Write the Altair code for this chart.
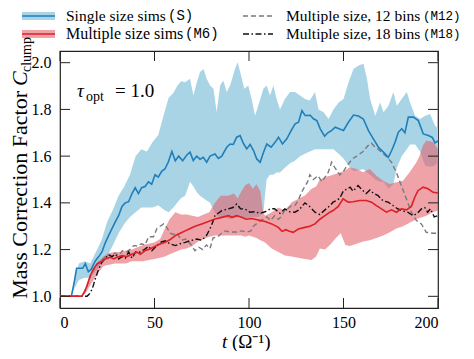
import altair as alt
import pandas as pd

# ---------------- data ----------------
S_t = [0, 6, 7.5, 8.8, 10.5, 12, 13.4, 15, 16.5, 18.6, 20.5, 22.2, 24, 25.7, 27.5, 29.3, 31, 32.8, 34.5, 36.3,
       38.1, 39.8, 41.5, 43.2, 45, 46.8, 48.5, 50.3, 52, 53.8, 55.5, 57.3, 59.2, 61, 62.8, 64.9, 67.1, 68.8, 70.5,
       72.3, 74.1, 75.8, 77.6, 79.4, 82, 83.8, 85.6, 88.2, 90, 91.7, 93.5, 95.3, 97, 98.8, 100.6, 102.4, 104.1,
       105.9, 107.7, 109.4, 111.7, 113.8, 115.6, 117.7, 120, 122.3, 124.4, 126.2, 128, 129.7, 132.4, 134.1, 135.9,
       137.7, 140, 141.7, 143.8, 145.6, 148.3, 150, 152.6, 155.3, 157.9, 160.5, 163.2, 165.8, 168.5, 171.1, 173.7,
       175.5, 177.3, 179, 180.8, 182.5, 184.3, 187, 189.6, 192.2, 194.9, 197, 198.4, 200]
S_v = [1.0, 1.0, 1.06, 1.12, 1.12, 1.12, 1.14, 1.105, 1.115, 1.15, 1.17, 1.19, 1.23, 1.26, 1.29, 1.32, 1.345, 1.385,
       1.40, 1.405, 1.44, 1.465, 1.44, 1.465, 1.47, 1.49, 1.48, 1.52, 1.51, 1.535, 1.545, 1.575, 1.62, 1.58, 1.60,
       1.58, 1.605, 1.617, 1.581, 1.60, 1.587, 1.595, 1.574, 1.60, 1.609, 1.59, 1.60, 1.638, 1.652, 1.65, 1.681,
       1.688, 1.655, 1.631, 1.65, 1.624, 1.588, 1.574, 1.617, 1.652, 1.638, 1.659, 1.681, 1.652, 1.674, 1.709,
       1.738, 1.745, 1.795, 1.774, 1.775, 1.76, 1.752, 1.717, 1.685, 1.70, 1.71, 1.724, 1.715, 1.71, 1.745, 1.776,
       1.772, 1.759, 1.709, 1.674, 1.638, 1.617, 1.595, 1.624, 1.66, 1.702, 1.717, 1.70, 1.767, 1.767, 1.752,
       1.695, 1.688, 1.68, 1.657, 1.665]

S_band_t = [0, 6, 8, 10, 13, 16, 19, 22, 25, 28, 31, 34, 37, 40, 43, 46, 49, 52, 55, 57.5, 60, 62, 64, 66.2, 68.8,
            70.6, 72.4, 74.1, 75.9, 77.6, 79.4, 81.2, 82.9, 84.7, 86.4, 88.2, 90, 92.6, 94, 95.8, 97.5, 99.6, 101.4,
            103.2, 104.9, 107.6, 109.3, 111.1, 112.9, 114.6, 116.4, 119, 121.7, 124.3, 127, 129.6, 132.2, 134.9,
            136.8, 139.5, 142.1, 144.7, 147.4, 150, 152.7, 155.3, 158, 160.6, 162.4, 164.1, 166.8, 169.4, 171.2,
            173.8, 176.4, 178.2, 180.8, 183.5, 185.2, 187.9, 190.5, 193.2, 195.8, 198.4, 200]
S_lo = [1.0, 1.0, 1.04, 1.07, 1.08, 1.08, 1.11, 1.14, 1.17, 1.22, 1.27, 1.31, 1.34, 1.36, 1.38, 1.38, 1.38, 1.39,
        1.37, 1.36, 1.38, 1.40, 1.42, 1.43, 1.49, 1.47, 1.445, 1.43, 1.42, 1.41, 1.40, 1.37, 1.345, 1.34, 1.34,
        1.335, 1.33, 1.335, 1.34, 1.34, 1.335, 1.335, 1.34, 1.34, 1.34, 1.36, 1.50, 1.52, 1.52, 1.53, 1.53, 1.55,
        1.57, 1.58, 1.60, 1.61, 1.62, 1.63, 1.63, 1.63, 1.63, 1.63, 1.61, 1.59, 1.56, 1.535, 1.54, 1.545, 1.53,
        1.52, 1.50, 1.49, 1.49, 1.46, 1.48, 1.55, 1.60, 1.63, 1.65, 1.65, 1.62, 1.56, 1.555, 1.56, 1.58]
S_hi = [1.0, 1.0, 1.09, 1.14, 1.15, 1.14, 1.19, 1.24, 1.32, 1.37, 1.43, 1.47, 1.52, 1.60, 1.63, 1.62, 1.66, 1.69,
        1.78, 1.85, 1.87, 1.90, 1.92, 1.916, 1.931, 1.86, 1.916, 1.96, 1.973, 1.931, 1.902, 1.888, 1.788, 1.902,
        1.924, 1.874, 1.902, 1.973, 2.002, 1.945, 1.888, 1.902, 1.845, 1.773, 1.816, 1.888, 1.902, 1.86, 1.902,
        1.845, 1.80, 1.845, 1.874, 1.874, 1.86, 1.845, 1.838, 1.874, 1.80, 1.788, 1.759, 1.80, 1.83, 1.845,
        1.916, 1.973, 1.988, 1.995, 1.931, 1.845, 1.773, 1.83, 1.788, 1.816, 1.874, 1.816, 1.845, 1.874, 1.83,
        1.773, 1.759, 1.773, 1.78, 1.731, 1.717]

M6_t = [0, 11.5, 13, 14.3, 16, 17.8, 19.6, 21.3, 24, 26.6, 28.5, 30.1, 32.8, 35.4, 38.1, 40.7, 42.5, 45.1, 47.7,
        50.4, 53, 55.7, 58.3, 61, 63.6, 66.2, 68.9, 71.5, 75, 78.5, 82, 85.6, 89.1, 91, 93.5, 96.1, 98.5, 101.4,
        104.9, 108.5, 112, 115.5, 117.5, 119.5, 121, 123.4, 126.1, 129.6, 132.2, 134.9, 137.5, 140.2, 142.8, 144.5,
        147.2, 149.8, 152.5, 155.1, 158.6, 162.1, 164.8, 167.4, 170.1, 172.7, 175.4, 178, 180.6, 183.3, 185.9,
        187.7, 189.4, 192.1, 194.7, 197.4, 200]
M6_v = [1.0, 1.0, 1.02, 1.045, 1.088, 1.117, 1.139, 1.146, 1.16, 1.167, 1.16, 1.167, 1.174, 1.17, 1.18, 1.189,
        1.18, 1.196, 1.203, 1.214, 1.224, 1.231, 1.243, 1.26, 1.27, 1.28, 1.29, 1.30, 1.31, 1.32, 1.331, 1.338,
        1.345, 1.338, 1.345, 1.338, 1.33, 1.333, 1.327, 1.32, 1.31, 1.295, 1.278, 1.285, 1.28, 1.274, 1.288,
        1.295, 1.30, 1.31, 1.33, 1.345, 1.36, 1.367, 1.385, 1.417, 1.403, 1.405, 1.41, 1.41, 1.403, 1.388, 1.374,
        1.36, 1.37, 1.36, 1.374, 1.37, 1.385, 1.424, 1.452, 1.467, 1.46, 1.445, 1.442]

M6_band_t = [0, 12, 14, 17, 20, 23, 26, 29, 32, 35, 38, 41, 44, 47, 50, 53, 55.5, 58, 61, 64, 67, 70, 73, 76, 79,
             82, 85, 89, 92, 94, 96, 98, 100, 102, 104, 106, 107.5, 108.5, 112, 115.5, 119, 122.6, 126, 129.6,
             133.1, 135.5, 137.5, 140.2, 142.8, 146, 148.5, 151, 153.3, 156.9, 160.4, 163.9, 167.4, 171, 174.5,
             178, 181.5, 185, 188.6, 190.3, 192, 193.8, 197.4, 200]
M6_lo = [1.0, 1.0, 1.02, 1.06, 1.10, 1.13, 1.135, 1.14, 1.14, 1.14, 1.15, 1.15, 1.15, 1.155, 1.16, 1.165, 1.17,
         1.18, 1.19, 1.20, 1.205, 1.215, 1.235, 1.245, 1.255, 1.26, 1.26, 1.26, 1.26, 1.26, 1.26, 1.255, 1.26,
         1.255, 1.25, 1.24, 1.235, 1.23, 1.205, 1.19, 1.175, 1.17, 1.165, 1.16, 1.155, 1.17, 1.205, 1.20, 1.22,
         1.25, 1.27, 1.22, 1.215, 1.225, 1.235, 1.24, 1.25, 1.26, 1.274, 1.29, 1.30, 1.315, 1.33, 1.335, 1.34,
         1.345, 1.36, 1.367]
M6_hi = [1.0, 1.0, 1.05, 1.10, 1.15, 1.17, 1.185, 1.19, 1.19, 1.195, 1.20, 1.21, 1.22, 1.225, 1.23, 1.245, 1.29,
         1.33, 1.36, 1.35, 1.35, 1.345, 1.34, 1.35, 1.36, 1.40, 1.43, 1.43, 1.44, 1.42, 1.45, 1.475, 1.485, 1.46,
         1.48, 1.45, 1.36, 1.345, 1.36, 1.38, 1.367, 1.403, 1.417, 1.431, 1.46, 1.47, 1.50, 1.51, 1.516, 1.525,
         1.531, 1.54, 1.552, 1.545, 1.531, 1.545, 1.516, 1.495, 1.481, 1.488, 1.495, 1.531, 1.574, 1.602, 1.645,
         1.667, 1.66, 1.631]

M12_t = [0, 11.5, 13, 14.3, 16, 17.8, 19.6, 21.3, 23, 25, 27, 29, 31, 33, 35, 37, 39, 41, 43, 45, 46.9, 49.5, 51.3,
         53, 54.8, 56.5, 58.3, 60, 62, 64.3, 66.5, 69, 71.4, 73.5, 75.5, 77.5, 79.4, 81, 83.5, 85.5, 87.3, 90, 93.5,
         96, 98.8, 101, 102.3, 105.5, 107.5, 109.4, 111.5, 113.5, 115.5, 117, 119, 120.5, 122.6, 124.5, 126, 127.8,
         129.5, 131, 132.2, 134, 136.6, 138.5, 140.2, 141.9, 143.7, 145.5, 148, 150, 151.5, 153.3, 155, 157, 160.4,
         163, 164.8, 166.5, 168.3, 170, 172.5, 175.4, 178, 180.6, 183.3, 185.9, 188.6, 191.2, 193.8, 197.4, 200]
M12_v = [1.0, 1.0, 1.02, 1.045, 1.085, 1.115, 1.135, 1.15, 1.16, 1.18, 1.17, 1.185, 1.175, 1.195, 1.19, 1.20,
         1.217, 1.215, 1.225, 1.22, 1.255, 1.255, 1.29, 1.30, 1.31, 1.295, 1.27, 1.265, 1.27, 1.24, 1.245, 1.225,
         1.195, 1.21, 1.20, 1.22, 1.205, 1.25, 1.255, 1.27, 1.28, 1.275, 1.275, 1.28, 1.275, 1.28, 1.30, 1.32,
         1.33, 1.34, 1.325, 1.345, 1.33, 1.34, 1.37, 1.375, 1.388, 1.39, 1.41, 1.445, 1.47, 1.49, 1.52, 1.50,
         1.516, 1.49, 1.51, 1.53, 1.574, 1.55, 1.52, 1.535, 1.555, 1.574, 1.59, 1.60, 1.62, 1.645, 1.655, 1.64,
         1.63, 1.617, 1.60, 1.574, 1.53, 1.474, 1.417, 1.36, 1.324, 1.31, 1.274, 1.27, 1.27]

M18_t = [0, 14.3, 15.5, 17, 18.7, 20.5, 22.2, 24, 25.7, 27.5, 29.3, 31, 32.8, 34.5, 36.3, 38.1, 40, 42.5, 45.1,
         46.9, 48.6, 50.4, 53, 55.7, 58.3, 61, 63.5, 66.2, 68.9, 72.4, 75, 77.5, 80, 82, 85.6, 89.1, 91.5, 93.5,
         95.5, 97.9, 100.5, 103, 105.8, 108.5, 111.1, 113.5, 116.4, 119, 121.5, 124.3, 126.5, 129.6, 132, 134.9,
         137.5, 140.2, 142.8, 144.5, 146.3, 148, 150, 152, 153.5, 155, 157.7, 160, 162, 164, 166, 168.3, 171,
         173.6, 176, 178.5, 181.5, 184, 186.8, 189, 191.2, 193, 194.5, 196, 198, 200]
M18_v = [1.0, 1.0, 1.01, 1.03, 1.075, 1.117, 1.146, 1.163, 1.178, 1.17, 1.18, 1.16, 1.17, 1.163, 1.19, 1.163,
         1.19, 1.19, 1.203, 1.214, 1.195, 1.21, 1.231, 1.238, 1.224, 1.217, 1.225, 1.231, 1.238, 1.245, 1.24,
         1.26, 1.30, 1.345, 1.367, 1.374, 1.38, 1.395, 1.375, 1.374, 1.36, 1.362, 1.355, 1.362, 1.374, 1.375,
         1.355, 1.374, 1.362, 1.36, 1.37, 1.40, 1.385, 1.36, 1.35, 1.37, 1.388, 1.403, 1.41, 1.42, 1.452, 1.46,
         1.467, 1.45, 1.474, 1.455, 1.44, 1.455, 1.44, 1.431, 1.408, 1.403, 1.39, 1.375, 1.365, 1.36, 1.345,
         1.355, 1.374, 1.38, 1.36, 1.375, 1.34, 1.345]

x_ticks = [0, 50, 100, 150, 200]
y_ticks = [1.0, 1.2, 1.4, 1.6, 1.8, 2.0]

# ---------------- layout ----------------
W, H = 378, 257
SERIF = "Liberation Serif"
MONO = "Liberation Mono"
BLUE, BLUE_BAND = "#1f7fba", "#a9d4e6"
RED, RED_BAND = "#dd1f26", "#e35f68"
RED_OP = 0.58

xs = alt.Scale(domain=[0, 200], nice=False, zero=False)
ys = alt.Scale(domain=[0.95, 2.05], nice=False, zero=False)
X = alt.X("t:Q", scale=xs, title="",
          axis=alt.Axis(values=x_ticks, labelPadding=6, labelFontSize=16, labelFont=SERIF))
Y = alt.Y("v:Q", scale=ys, title="",
          axis=alt.Axis(values=y_ticks, format=".1f", labelPadding=9, labelFontSize=16, labelFont=SERIF))

df_s = pd.DataFrame({"t": S_t, "v": S_v})
df_sb = pd.DataFrame({"t": S_band_t, "v": S_lo, "v2": S_hi})
df_m6 = pd.DataFrame({"t": M6_t, "v": M6_v})
df_m6b = pd.DataFrame({"t": M6_band_t, "v": M6_lo, "v2": M6_hi})
df_m12 = pd.DataFrame({"t": M12_t, "v": M12_v})
df_m18 = pd.DataFrame({"t": M18_t, "v": M18_v})

band_s = alt.Chart(df_sb).mark_area(color=BLUE_BAND, opacity=1).encode(x=X, y=Y, y2="v2:Q")
band_m6 = alt.Chart(df_m6b).mark_area(color=RED_BAND, opacity=RED_OP).encode(x=X, y=Y, y2="v2:Q")
line_m12 = alt.Chart(df_m12).mark_line(color="#7a7a7a", strokeWidth=1.4, strokeDash=[5, 3]).encode(x=X, y=Y)
line_m18 = alt.Chart(df_m18).mark_line(color="#111111", strokeWidth=1.4,
                                        strokeDash=[6, 2.5, 1.5, 2.5]).encode(x=X, y=Y)
line_s = alt.Chart(df_s).mark_line(color=BLUE, strokeWidth=1.6).encode(x=X, y=Y)
line_m6 = alt.Chart(df_m6).mark_line(color=RED, strokeWidth=1.6).encode(x=X, y=Y)

# inward ticks on all four sides
df_xt = pd.DataFrame({"t": x_ticks})
df_yt = pd.DataFrame({"v": y_ticks})
TK = "#222222"
xt_bot = alt.Chart(df_xt).mark_rule(color=TK, strokeWidth=1).encode(x=X, y=alt.value(H), y2=alt.value(H - 10))
xt_top = alt.Chart(df_xt).mark_rule(color=TK, strokeWidth=1).encode(x=X, y=alt.value(0), y2=alt.value(10))
yt_l = alt.Chart(df_yt).mark_rule(color=TK, strokeWidth=1).encode(y=Y, x=alt.value(0), x2=alt.value(10))
yt_r = alt.Chart(df_yt).mark_rule(color=TK, strokeWidth=1).encode(y=Y, x=alt.value(W - 10), x2=alt.value(W))

dummy = pd.DataFrame({"d": [0]})


def txt(s, x, y, size, font=SERIF, style="normal", align="left", baseline="alphabetic", angle=0):
    return alt.Chart(dummy).mark_text(text=s, font=font, fontSize=size, fontStyle=style, align=align,
                                      baseline=baseline, angle=angle, color="black").encode(
        x=alt.value(x), y=alt.value(y))


def rect(x1, x2, y1, y2, color, opacity=1.0):
    return alt.Chart(dummy).mark_rect(color=color, opacity=opacity).encode(
        x=alt.value(x1), x2=alt.value(x2), y=alt.value(y1), y2=alt.value(y2))


def seg(x1, x2, y, color, width, dash=None):
    kw = dict(color=color, strokeWidth=width)
    if dash:
        kw["strokeDash"] = dash
    return alt.Chart(dummy).mark_rule(**kw).encode(x=alt.value(x1), x2=alt.value(x2), y=alt.value(y))


# legend (chart coordinates: page minus (60, 51))
r1, r2 = -35, -17
legend = [
    rect(-38, -5, r1 - 4, r1 + 4, BLUE_BAND), seg(-38, -5, r1, BLUE, 1.6),
    txt("Single size sims", 6, r1, 15.5, baseline="middle"), txt("(S)", 108, r1, 14, font=MONO, baseline="middle"),
    rect(-38, -5, r2 - 4, r2 + 4, RED_BAND, RED_OP), seg(-38, -5, r2, RED, 1.6),
    txt("Multiple size sims", 6, r2, 16, baseline="middle"), txt("(M6)", 125, r2, 14, font=MONO, baseline="middle"),
    seg(183, 213, r1, "#7a7a7a", 1.4, [5, 3]),
    txt("Multiple size, 12 bins", 226, r1, 15.5, baseline="middle"),
    txt("(M12)", 363, r1, 12.5, font=MONO, baseline="middle"),
    seg(183, 213, r2, "#111111", 1.4, [6, 2.5, 1.5, 2.5]),
    txt("Multiple size, 18 bins", 226, r2, 15.5, baseline="middle"),
    txt("(M18)", 363, r2, 12.5, font=MONO, baseline="middle"),
]

# tau annotation
tau = [
    txt("τ", 17, 46, 19, style="italic"),
    txt("opt", 26, 50, 14),
    txt("= 1.0", 55, 46, 19),
]

# x title t(Ω^-1)
xtitle = [
    txt("t", 162, 297, 19, style="italic"),
    txt("(Ω⁻¹)", 172, 297, 19),
]

# y title (rotated)
ytitle = [
    txt("Mass Correction Factor", -33, 40, 22, align="right", angle=270),
    txt("C", -33, 35, 22, style="italic", align="left", angle=270),
    txt("clump", -29, 21, 14, align="left", angle=270),
]

chart = alt.layer(
    band_s, band_m6, line_m12, line_m18, line_s, line_m6,
    xt_bot, xt_top, yt_l, yt_r,
    *legend, *tau, *xtitle, *ytitle,
).properties(
    width=W, height=H,
    autosize=alt.AutoSizeParams(type="none"),
    padding={"left": 52, "top": 43, "right": 28, "bottom": 43},
).configure_view(
    stroke="#222222", strokeWidth=1.2
).configure_axis(
    grid=False, domain=False, tickSize=0, labelColor="black"
)

chart.save("out.html", embed_options={"renderer": "svg", "actions": False})
